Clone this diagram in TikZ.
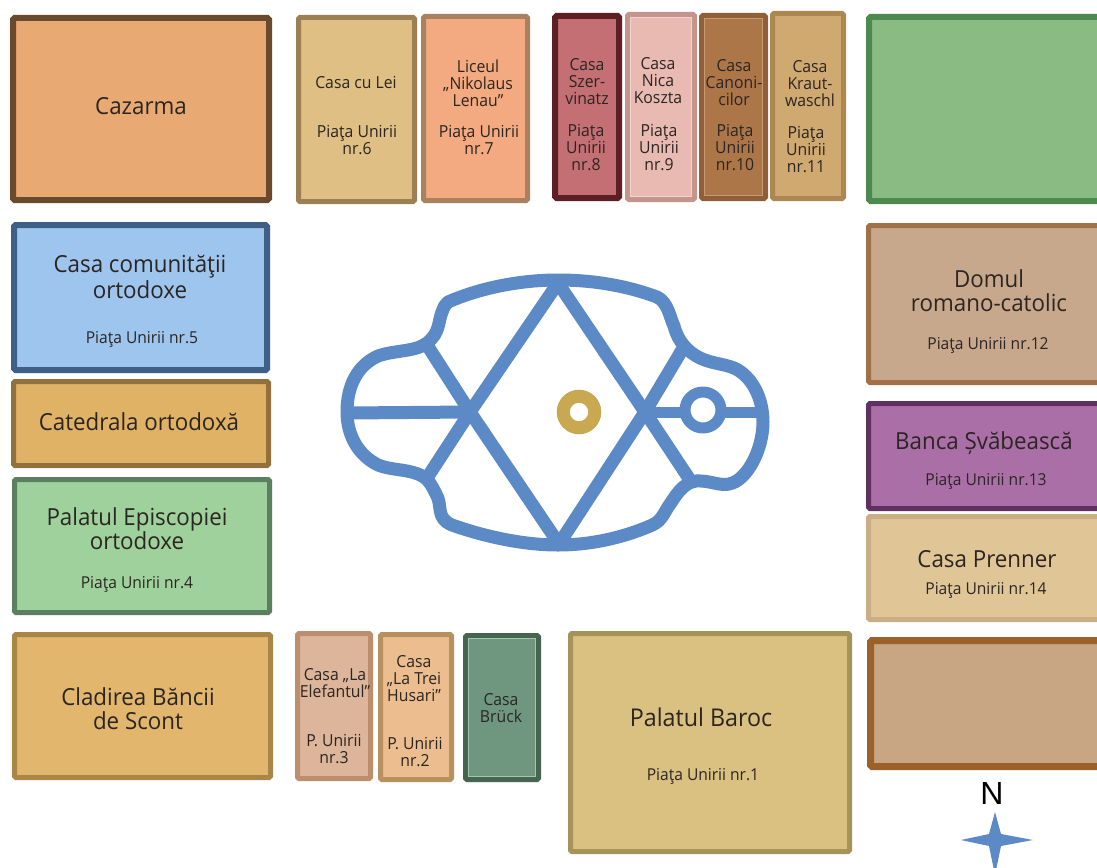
\documentclass[tikz,border=0pt]{standalone}
\usepackage{fontspec}
\setmainfont[FakeStretch=0.95]{Open Sans}
\newfontfamily\nfont{Liberation Sans}
\definecolor{inktxt}{HTML}{2B2522}
\definecolor{squareblue}{HTML}{5B8AC6}
\definecolor{ringgold}{HTML}{C8A850}
\tikzset{
  bld/.style={rectangle,inner sep=0pt,outer sep=0pt,rounded corners=1.5pt},
  bigtxt/.style={text=inktxt,align=center,inner sep=0pt,font=\fontsize{23.5}{24}\selectfont},
  midtxt/.style={text=inktxt,align=center,inner sep=0pt,font=\fontsize{16.6}{17}\selectfont},
  adrtxt/.style={text=inktxt,align=center,inner sep=0pt,font=\fontsize{16.4}{18}\selectfont},
  squareline/.style={draw=squareblue,line width=13pt,line join=round},
  hilite/.style={line width=0.8pt},
}
% name, x0,y0,x1,y1 (outer edges in pixels), fill, stroke, line width
\newcommand{\bldbox}[8]{%
  \definecolor{bf#1}{HTML}{#6}\definecolor{bs#1}{HTML}{#7}%
  \pgfmathsetmacro{\bw}{#4-#2-#8}\pgfmathsetmacro{\bh}{#5-#3-#8}%
  \node[bld,fill=bf#1,draw=bs#1,line width=#8pt,minimum width=\bw pt,minimum height=\bh pt]
    (#1) at ({(#2+#4)/2},{(#3+#5)/2}) {};}
% thin light edge just inside the frame of a building
\newcommand{\inneredge}[2]{%
  \definecolor{he#1}{HTML}{#2}%
  \draw[hilite,draw=he#1] ([xshift=3pt,yshift=-3pt]#1.north west) rectangle ([xshift=-3pt,yshift=3pt]#1.south east);}
\begin{document}
\begin{tikzpicture}[x=1pt,y=-1pt]
\useasboundingbox (0,0) rectangle (1097,867);
\clip (0,0) rectangle (1097,867);
\fill[white] (0,0) rectangle (1097,867);
\bldbox{cazarma}{10}{15}{272}{203}{E8A973}{6A4A2C}{6}
\bldbox{lei}{296}{15}{417}{204}{DFBF84}{9C7F52}{5}
\bldbox{liceu}{421}{14}{530}{203}{F3AA80}{A9815F}{5}
\bldbox{szer}{552}{13}{622}{201}{C36F74}{5B1F24}{6}
\bldbox{nica}{625}{12}{697}{202}{E9BAB1}{C4948D}{5}
\bldbox{canon}{699}{13}{768}{201}{AD7649}{8E5F39}{5}
\bldbox{kraut}{770}{11}{846}{201}{CFA970}{AD8751}{5}
\bldbox{green}{866}{14}{1110}{204}{8ABB83}{4C8A4F}{6}
\bldbox{comun}{11}{222}{270}{373}{9EC5EE}{3E5F88}{6}
\bldbox{catedr}{11}{379}{271}{468}{E0B265}{90703C}{5}
\bldbox{episc}{12}{477}{272}{615}{9FD19C}{5C7F60}{5}
\bldbox{scont}{12}{632}{273}{780}{E2B66D}{A98648}{5}
\bldbox{elef}{295}{631}{373}{781}{DDB59B}{BC8E6D}{5}
\bldbox{husari}{378}{632}{454}{782}{ECBE8F}{B8905F}{5}
\bldbox{bruck}{463}{633}{541}{782}{6F9780}{46654F}{5}
\bldbox{baroc}{568}{631}{852}{854}{DAC181}{A5935A}{5}
\bldbox{domul}{866}{223}{1110}{385}{C8A88D}{A07046}{5}
\bldbox{banca}{866}{401}{1110}{511}{AB6FA8}{5F3060}{5}
\bldbox{prenner}{866}{514}{1110}{622}{E0C597}{C9AE84}{5}
\bldbox{brown}{867}{637}{1110}{770}{C8A583}{9C6128}{7}
\inneredge{bruck}{A6C4B2}
\inneredge{canon}{C89A70}
\inneredge{nica}{F3D3CC}

\node[bigtxt] (t1) at (141,106) {Cazarma};
\node[midtxt] (t2) at (356,82) {Casa cu Lei};
\node[midtxt] (t3) at (357,140) {Piaţa Unirii\\nr.6};
\node[midtxt] (t4) at (478,83) {Liceul\\„Nikolaus\\Lenau"};
\node[midtxt] (t5) at (479,140) {Piaţa Unirii\\nr.7};
\node[midtxt] (t6) at (587,82) {Casa\\Szer-\\vinatz};
\node[midtxt] (t7) at (586,148) {Piaţa\\Unirii\\nr.8};
\node[midtxt] (t8) at (658,81) {Casa\\Nica\\Koszta};
\node[midtxt] (t9) at (659,148) {Piaţa\\Unirii\\nr.9};
\node[midtxt] (t10) at (734,83) {Casa\\Canoni-\\cilor};
\node[midtxt] (t11) at (735,148) {Piaţa\\Unirii\\nr.10};
\node[midtxt] (t12) at (810,84) {Casa\\Kraut-\\waschl};
\node[midtxt] (t13) at (806,150) {Piaţa\\Unirii\\nr.11};
\node[bigtxt,font=\fontsize{23.5}{26}\selectfont] (t14) at (140,277) {Casa comunităţii\\ortodoxe};
\node[adrtxt] (t15) at (142,339) {Piaţa Unirii nr.5};
\node[bigtxt] (t16) at (139,422) {Catedrala ortodoxă};
\node[bigtxt] (t17) at (137,529) {Palatul Episcopiei\\ortodoxe};
\node[adrtxt] (t18) at (137,584) {Piaţa Unirii nr.4};
\node[bigtxt] (t19) at (138,709) {Cladirea Băncii\\de Scont};
\node[midtxt] (t20) at (335,683) {Casa „La\\Elefantul"};
\node[midtxt] (t21) at (334,749) {P. Unirii\\nr.3};
\node[midtxt] (t22) at (414,679) {Casa\\„La Trei\\Husari"};
\node[midtxt] (t23) at (415,752) {P. Unirii\\nr.2};
\node[midtxt] (t24) at (501,708) {Casa\\Brück};
\node[bigtxt,font=\fontsize{24.5}{24}\selectfont] (t25) at (701,717) {Palatul Baroc};
\node[adrtxt] (t26) at (703,776) {Piaţa Unirii nr.1};
\node[bigtxt] (t27) at (989,291) {Domul\\romano-catolic};
\node[adrtxt] (t28) at (988,345) {Piaţa Unirii nr.12};
\node[bigtxt] (t29) at (984,443) {Banca Șvăbească};
\node[adrtxt] (t30) at (986,481) {Piaţa Unirii nr.13};
\node[bigtxt] (t31) at (987,559) {Casa Prenner};
\node[adrtxt] (t32) at (986,590) {Piaţa Unirii nr.14};

% central square
\coordinate (top) at (558,283);
\coordinate (bot) at (559,544);
\coordinate (lft) at (470,412);
\coordinate (rgt) at (645,412);
\coordinate (nw) at (427,345);
\coordinate (sw) at (427,478);
\coordinate (ne) at (682,350);
\coordinate (se) at (690,480);
\coordinate (wend) at (347,413);
\coordinate (eend) at (762,412);
\coordinate (ringc) at (703,410);
\draw[squareline] (448,302)
 .. controls (480,288) and (520,280) .. (558,280)
 .. controls (597,280) and (630,287) .. (657,297)
 .. controls (668,302) and (670,318) .. (674,326)
 .. controls (678,342) and (688,352) .. (700,358)
 .. controls (712,364) and (728,364) .. (738,370)
 .. controls (754,380) and (763,400) .. (763,422)
 .. controls (763,445) and (752,470) .. (738,480)
 .. controls (724,490) and (714,480) .. (696,481)
 .. controls (682,483) and (675,497) .. (668,507)
 .. controls (662,517) and (660,522) .. (650,526)
 .. controls (622,538) and (590,545) .. (558,545)
 .. controls (520,545) and (480,535) .. (452,525)
 .. controls (435,518) and (443,505) .. (436,494)
 .. controls (431,484) and (428,478) .. (418,474)
 .. controls (405,469) and (390,470) .. (378,465)
 .. controls (358,455) and (347,435) .. (347,412)
 .. controls (347,385) and (358,365) .. (378,356)
 .. controls (395,350) and (415,352) .. (427,343)
 .. controls (440,333) and (438,322) .. (442,312)
 .. controls (444,307) and (445,304) .. (448,302) -- cycle;
\draw[squareline] (top) -- (lft) -- (bot) -- (rgt) -- cycle;
\draw[squareline] (lft) -- (sw);
\draw[squareline] (lft) -- (nw);
\draw[squareline] (rgt) -- (ne);
\draw[squareline] (rgt) -- (se);
\draw[squareline] (wend) -- (lft);
\draw[squareline,line width=11pt] (rgt) -- (eend);
\fill[white] (ringc) circle (13);
\draw[squareline,line width=11pt] (ringc) circle (18);
\draw[draw=ringgold,line width=13pt] (579,412) circle (15.75);

% north mark
\node[text=black,inner sep=0pt,font=\nfont\fontsize{32}{32}\selectfont] (north) at (992,793) {N};
\fill[squareblue] (995,812) -- (1001,834) -- (1033,840) -- (1001,846) -- (995,875) -- (989,846) -- (961,840) -- (989,834) -- cycle;
\end{tikzpicture}
\end{document}
